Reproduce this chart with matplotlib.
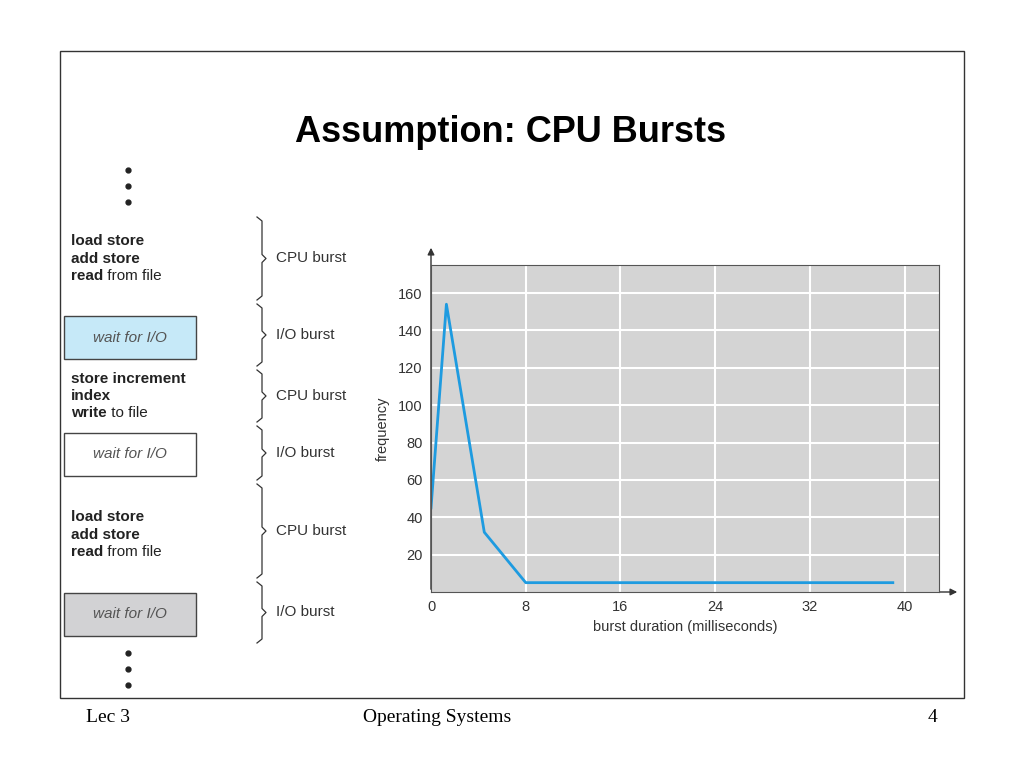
import matplotlib
matplotlib.use("Agg")
import matplotlib.pyplot as plt
from matplotlib.patches import Rectangle, FancyArrowPatch

plt.rcParams["font.family"] = ["Liberation Sans", "DejaVu Sans"]

burst_ms = [0, 1.3, 4.5, 8, 39]
frequency = [45, 154, 32, 5, 5]
xticks = [0, 8, 16, 24, 32, 40]
yticks = [20, 40, 60, 80, 100, 120, 140, 160]
burst_labels = ["CPU burst", "I/O burst", "CPU burst", "I/O burst", "CPU burst", "I/O burst"]
brace_bounds = [215, 302, 368, 424, 482, 580, 645]

fig = plt.figure(figsize=(10.24, 7.68), dpi=100)
bg = fig.add_axes([0, 0, 1, 1])
bg.set_xlim(0, 1024); bg.set_ylim(768, 0); bg.axis("off")

bg.add_patch(Rectangle((60, 51), 904, 647, fill=False, ec="#333", lw=1))
bg.text(511, 133, "Assumption: CPU Bursts", ha="center", va="center",
        fontsize=26, fontweight="bold")
serif = "Liberation Serif"
bg.text(86, 717, "Lec 3", fontsize=14, family=serif, va="center")
bg.text(437, 717, "Operating Systems", fontsize=14, family=serif, va="center", ha="center")
bg.text(932, 717, "4", fontsize=14, family=serif, va="center", ha="center")

for y in [170, 186, 202, 653, 669, 685]:
    bg.plot(128, y, "o", color="#222", ms=3.5)

def mixed(y, bold, normal):
    t = bg.text(71, y, bold, fontsize=11, fontweight="bold", va="center", color="#222")
    if normal:
        bg.annotate(normal, xy=(1, 0.5), xycoords=t, va="center", ha="left",
                    fontsize=11, color="#222")

mixed(241, "load store", ""); mixed(259, "add store", ""); mixed(276, "read", " from file")
mixed(379, "store increment", ""); mixed(396, "index", ""); mixed(413, "write", " to file")
mixed(517, "load store", ""); mixed(535, "add store", ""); mixed(552, "read", " from file")

for y0, fc in [(316, "#c6e9f8"), (433, "white"), (593, "#d2d2d4")]:
    bg.add_patch(Rectangle((64, y0), 132, 43, fc=fc, ec="#444", lw=1))
    bg.text(130, y0 + 21.5, "wait for I/O", fontsize=11, style="italic",
            color="#555", ha="center", va="center")

for i, lab in enumerate(burst_labels):
    a, b = brace_bounds[i] + 2, brace_bounds[i + 1] - 2
    m = (a + b) / 2
    bg.plot([257, 262, 262, 266, 262, 262, 257], [a, a + 4, m - 4, m, m + 4, b - 4, b],
            color="#333", lw=0.9)
    bg.text(276, m, lab, fontsize=11, va="center", color="#333")

ax = fig.add_axes([431 / 1024, (768 - 592) / 768, (939 - 431) / 1024, (592 - 265) / 768])
ax.set_facecolor("#d4d4d4")
ax.set_xlim(0, 42.9); ax.set_ylim(0, 175)
ax.set_xticks(xticks); ax.set_yticks(yticks)
ax.grid(True, color="white", lw=1.5)
ax.set_axisbelow(True)
for s in ax.spines.values():
    s.set_color("#555")
ax.tick_params(length=0, labelsize=10.5, colors="#333", pad=6)
ax.plot(burst_ms, frequency, color="#1e9be0", lw=2)
ax.set_xlabel("burst duration (milliseconds)", fontsize=10.5, color="#333", labelpad=4)
ax.set_ylabel("frequency", fontsize=10.5, color="#333", labelpad=6)
bg.add_patch(FancyArrowPatch((431, 592), (431, 245), arrowstyle="-|>", mutation_scale=10, color="#333", lw=1))
bg.add_patch(FancyArrowPatch((431, 592), (960, 592), arrowstyle="-|>", mutation_scale=10, color="#333", lw=1))

fig.savefig("out.png", dpi=100)
